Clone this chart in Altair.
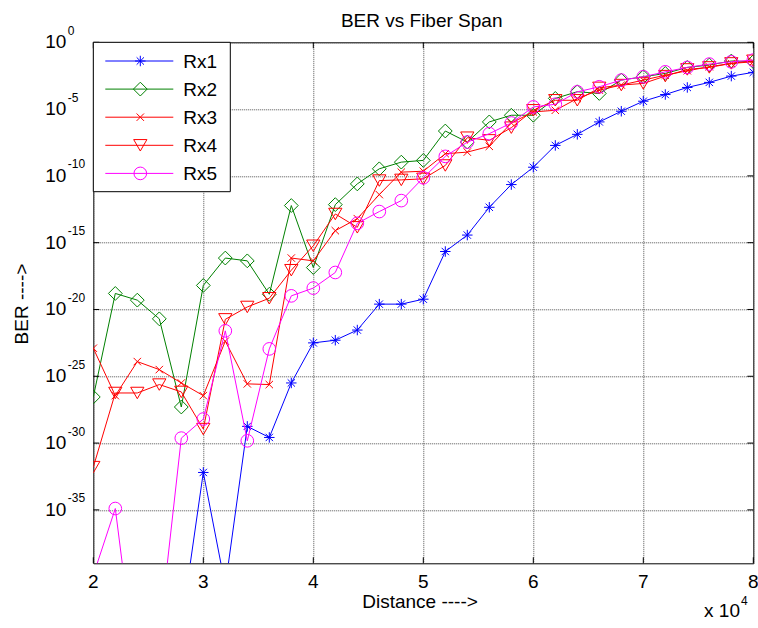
import altair as alt
import pandas as pd

# ---------------- data ----------------
distance = [20000, 22000, 24000, 26000, 28000, 30000, 32000, 34000, 36000, 38000,
            40000, 42000, 44000, 46000, 48000, 50000, 52000, 54000, 56000, 58000,
            60000, 62000, 64000, 66000, 68000, 70000, 72000, 74000, 76000, 78000, 80000]

# log10(BER) (values below 1e-39 are off the plot)
rx1_log = [-46, -46, -45.5, -45, -43.7, -32.2, -40.7, -28.75, -29.58, -25.5,
           -22.5, -22.3, -21.54, -19.6, -19.6, -19.23, -15.66, -14.43, -12.35, -10.65,
           -9.35, -7.72, -6.89, -5.96, -5.16, -4.41, -3.91, -3.38, -3.0, -2.53, -2.25]
rx2_log = [-26.55, -18.8, -19.3, -20.7, -27.3, -18.2, -16.15, -16.36, -18.86, -12.22,
           -16.86, -12.15, -10.6, -9.47, -8.97, -8.84, -6.64, -7.47, -5.96, -5.46,
           -5.46, -4.2, -3.7, -3.83, -2.83, -2.58, -2.33, -1.88, -1.7, -1.4, -1.45]
rx3_log = [-22.9, -26.45, -23.9, -24.5, -25.5, -26.45, -22.37, -25.57, -25.62, -16.15,
           -16.36, -14.1, -13.2, -11.4, -9.72, -9.65, -8.34, -8.22, -7.79, -6.04,
           -5.21, -5.09, -4.21, -3.58, -3.2, -2.83, -2.46, -2.13, -1.83, -1.58, -1.46]
rx4_log = [-31.8, -26.25, -26.25, -25.62, -26.17, -28.95, -20.74, -19.81, -19.16, -17.06,
           -15.23, -12.85, -13.85, -10.35, -10.3, -10.22, -9.22, -7.14, -7.34, -6.39,
           -5.09, -4.34, -4.34, -3.41, -3.2, -3.08, -2.53, -2.03, -1.88, -1.58, -1.38]
rx5_log = [-39.9, -34.9, -47.9, -44.4, -29.63, -28.2, -21.6, -29.83, -22.95, -18.98,
           -18.4, -17.23, -13.55, -12.67, -11.85, -10.14, -8.54, -7.47, -6.84, -6.04,
           -4.84, -4.64, -3.71, -3.33, -2.83, -2.58, -2.21, -1.88, -1.63, -1.46, -1.33]

series_names = ["Rx1", "Rx2", "Rx3", "Rx4", "Rx5"]
series_logs = [rx1_log, rx2_log, rx3_log, rx4_log, rx5_log]

xtick_values = [20000, 30000, 40000, 50000, 60000, 70000, 80000]
xtick_labels = ["2", "3", "4", "5", "6", "7", "8"]
ytick_exponents = [0, -5, -10, -15, -20, -25, -30, -35]

# ---------------- styles ----------------
FONT = "Liberation Sans"
STAR = "M-1,0L1,0M0,-1L0,1M-0.7,-0.7L0.7,0.7M-0.7,0.7L0.7,-0.7"
XMARK = "M-1,-1L1,1M-1,1L1,-1"
series_colors = ["#0000ff", "#008000", "#ff0000", "#ff0000", "#ff00ff"]
series_shapes = [STAR, "diamond", XMARK, "triangle-down", "circle"]
series_sizes = [110, 190, 55, 175, 160]

W, H = 660, 521

xscale = alt.Scale(domain=[20000, 80000], nice=False, zero=False)
yscale = alt.Scale(type="log", domain=[1e-39, 1], nice=False)
xaxis = alt.Axis(values=xtick_values, grid=True, labels=False, ticks=False,
                 domain=False, title=None, gridColor="#505050", gridDash=[1, 1],
                 gridOpacity=1)
yaxis = alt.Axis(values=[10.0 ** e for e in ytick_exponents], grid=True, labels=False,
                 ticks=False, domain=False, title=None, gridColor="#505050",
                 gridDash=[1, 1], gridOpacity=1)


def X(field="distance"):
    return alt.X(f"{field}:Q", scale=xscale, axis=xaxis)


def Y(field="ber"):
    return alt.Y(f"{field}:Q", scale=yscale, axis=yaxis)


layers = []

# data series
for name, logs, col, shp, sz in zip(series_names, series_logs, series_colors,
                                    series_shapes, series_sizes):
    df = pd.DataFrame({"distance": distance, "ber": [10.0 ** v for v in logs]})
    base = alt.Chart(df)
    layers.append(base.mark_line(color=col, strokeWidth=1, clip=True)
                  .encode(x=X(), y=Y()))
    layers.append(base.mark_point(color=col, shape=shp, size=sz, filled=False,
                                  strokeWidth=1, opacity=1, clip=True)
                  .encode(x=X(), y=Y()))

# inward tick marks
ydf = pd.DataFrame({"ber": [10.0 ** e for e in ytick_exponents],
                    "exp": [str(e) for e in ytick_exponents]})
xdf = pd.DataFrame({"distance": xtick_values, "label": xtick_labels})

layers.append(alt.Chart(ydf).mark_rule(color="black", strokeWidth=1)
              .encode(x=alt.value(0), x2=alt.value(6), y=Y()))
layers.append(alt.Chart(ydf).mark_rule(color="black", strokeWidth=1)
              .encode(x=alt.value(W - 6), x2=alt.value(W), y=Y()))
layers.append(alt.Chart(xdf).mark_rule(color="black", strokeWidth=1)
              .encode(x=X(), y=alt.value(H - 6), y2=alt.value(H)))
layers.append(alt.Chart(xdf).mark_rule(color="black", strokeWidth=1)
              .encode(x=X(), y=alt.value(0), y2=alt.value(6)))

# y tick labels 10^e
layers.append(alt.Chart(ydf).mark_text(align="right", baseline="middle", fontSize=19,
                                       font=FONT, color="black")
              .encode(x=alt.value(-27), y=Y(), text=alt.value("10")))
layers.append(alt.Chart(ydf).mark_text(align="left", baseline="middle", fontSize=12,
                                       font=FONT, color="black", dy=-11.5)
              .encode(x=alt.value(-25.5), y=Y(), text="exp:N"))

# x tick labels
layers.append(alt.Chart(xdf).mark_text(align="center", baseline="alphabetic", fontSize=19,
                                       font=FONT, color="black")
              .encode(x=X(), y=alt.value(545.5), text="label:N"))

# titles
tdf = pd.DataFrame({"t": ["BER vs Fiber Span"]})
layers.append(alt.Chart(tdf).mark_text(align="center", baseline="alphabetic", fontSize=19,
                                       font=FONT, color="black")
              .encode(x=alt.value(328.4), y=alt.value(-15.6), text="t:N"))
xt = pd.DataFrame({"t": ["Distance ---->"]})
layers.append(alt.Chart(xt).mark_text(align="center", baseline="alphabetic", fontSize=19,
                                      font=FONT, color="black")
              .encode(x=alt.value(326.7), y=alt.value(565.5), text="t:N"))
yt = pd.DataFrame({"t": ["BER ---->"]})
layers.append(alt.Chart(yt).mark_text(align="center", baseline="middle", fontSize=19,
                                      font=FONT, color="black", angle=270)
              .encode(x=alt.value(-71.8), y=alt.value(261.7), text="t:N"))
mult = pd.DataFrame({"t": ["x 10"], "e": ["4"]})
layers.append(alt.Chart(mult).mark_text(align="right", baseline="alphabetic", fontSize=19,
                                        font=FONT, color="black")
              .encode(x=alt.value(646.7), y=alt.value(574.4), text="t:N"))
layers.append(alt.Chart(mult).mark_text(align="left", baseline="alphabetic", fontSize=12,
                                        font=FONT, color="black")
              .encode(x=alt.value(647.7), y=alt.value(562.7), text="e:N"))

# legend box
layers.append(alt.Chart(pd.DataFrame({"k": [0]})).mark_rect(fill="white", stroke="black",
                                                            strokeWidth=1)
              .encode(x=alt.value(0), x2=alt.value(137), y=alt.value(0), y2=alt.value(149.4)))
for i, (name, col, shp, sz) in enumerate(zip(series_names, series_colors,
                                             series_shapes, series_sizes)):
    row_y = 18.7 + 28.1 * i
    one = pd.DataFrame({"name": [name]})
    layers.append(alt.Chart(one).mark_rule(color=col, strokeWidth=1)
                  .encode(x=alt.value(12), x2=alt.value(80), y=alt.value(row_y)))
    layers.append(alt.Chart(one).mark_point(color=col, shape=shp, size=sz, filled=False,
                                            strokeWidth=1, opacity=1)
                  .encode(x=alt.value(47), y=alt.value(row_y)))
    layers.append(alt.Chart(one).mark_text(align="left", baseline="middle", fontSize=19,
                                           font=FONT, color="black")
                  .encode(x=alt.value(90), y=alt.value(row_y + 1), text="name:N"))

chart = alt.layer(*layers).properties(
    width=W, height=H,
    autosize=alt.AutoSizeParams(type="none"),
    padding={"left": 93.3, "top": 42.3, "right": 4.7, "bottom": 64.7},
    background="white",
).configure_view(stroke="black", strokeWidth=1)

chart.save("out.html", embed_options={"renderer": "svg", "actions": False})
